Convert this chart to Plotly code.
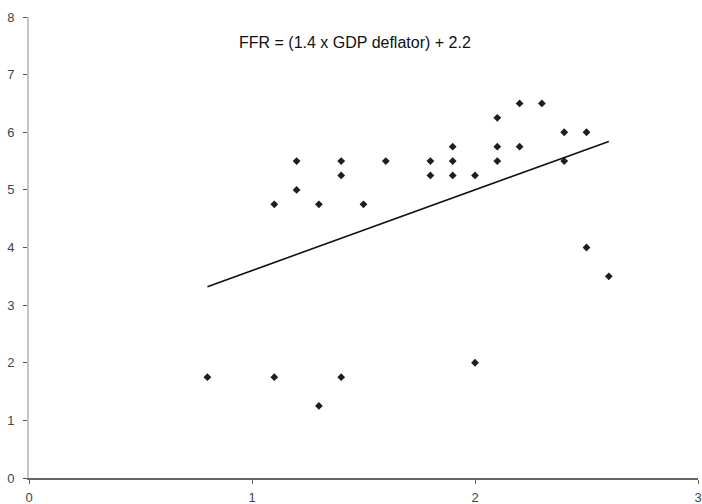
import plotly.graph_objects as go

# GDP deflator (%) vs federal funds rate (%)
gdp_deflator = [0.8, 1.1, 1.1, 1.2, 1.2, 1.3, 1.3, 1.4, 1.4, 1.4,
                1.5, 1.6, 1.8, 1.8, 1.9, 1.9, 1.9, 2.0, 2.0,
                2.1, 2.1, 2.1, 2.2, 2.2, 2.3, 2.4, 2.4, 2.5, 2.5, 2.6]
ffr = [1.75, 4.75, 1.75, 5.5, 5.0, 4.75, 1.25, 5.5, 5.25, 1.75,
       4.75, 5.5, 5.5, 5.25, 5.75, 5.5, 5.25, 5.25, 2.0,
       6.25, 5.75, 5.5, 6.5, 5.75, 6.5, 6.0, 5.5, 6.0, 4.0, 3.5]

# Fitted rule: FFR = 1.4 * deflator + 2.2
slope = 1.4
intercept = 2.2
fit_x = [min(gdp_deflator), max(gdp_deflator)]
fit_y = [slope * x + intercept for x in fit_x]

x_ticks = [0, 1, 2, 3]
y_ticks = [0, 1, 2, 3, 4, 5, 6, 7, 8]

fig = go.Figure()
fig.add_trace(go.Scatter(
    x=gdp_deflator, y=ffr, mode="markers",
    marker=dict(symbol="diamond", size=6, color="#1e1e1e"),
    showlegend=False, hoverinfo="x+y",
))
fig.add_trace(go.Scatter(
    x=fit_x, y=fit_y, mode="lines",
    line=dict(color="#111111", width=1.6),
    showlegend=False, hoverinfo="skip",
))

fig.add_annotation(
    x=1.46, y=7.56, xref="x", yref="y",
    text="FFR = (1.4 x GDP deflator) + 2.2",
    showarrow=False,
    font=dict(family="Liberation Sans, Arial, sans-serif", size=16, color="#111111"),
)

fig.update_layout(
    width=702, height=504,
    margin=dict(l=29, r=4, t=17, b=26),
    paper_bgcolor="white", plot_bgcolor="white",
    font=dict(family="Liberation Sans, Arial, sans-serif", size=13, color="#444444"),
)
fig.update_xaxes(
    range=[0, 3], tickvals=x_ticks, ticktext=[str(v) for v in x_ticks],
    showgrid=False, zeroline=False, automargin=False,
    showline=True, linecolor="#666666", linewidth=1.5,
    ticks="outside", ticklen=4, tickcolor="#666666", tickwidth=1,
    ticklabelstandoff=3,
)
fig.update_yaxes(
    range=[0, 8], tickvals=y_ticks, ticktext=[str(v) for v in y_ticks],
    showgrid=False, zeroline=False, automargin=False,
    showline=True, linecolor="#c4c4c4", linewidth=2,
    ticks="outside", ticklen=4, tickcolor="#555555", tickwidth=1,
    ticklabelstandoff=6,
)

fig.write_html("out.html")
